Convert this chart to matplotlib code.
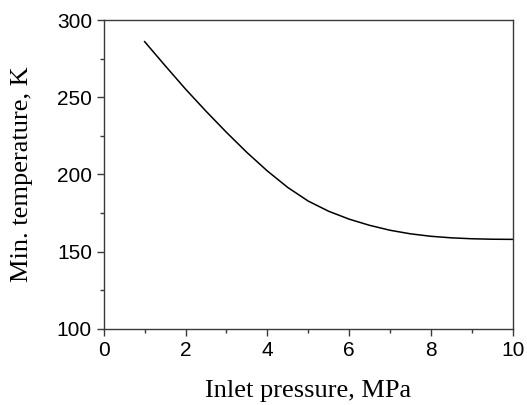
import matplotlib
matplotlib.use("Agg")
import matplotlib.pyplot as plt
from matplotlib.ticker import MultipleLocator

pressure = [1.0, 1.5, 2.0, 2.5, 3.0, 3.5, 4.0, 4.5, 5.0, 5.5, 6.0, 6.5, 7.0, 7.5, 8.0, 8.5, 9.0, 9.5, 10.0]
min_temp = [286.0, 270.5, 255.3, 241.0, 227.3, 214.3, 202.3, 191.6, 182.8, 176.2, 171.1, 167.1, 163.9, 161.6, 160.0, 159.0, 158.4, 158.1, 158.0]

x_ticks = [0, 2, 4, 6, 8, 10]
y_ticks = [100, 150, 200, 250, 300]

fig = plt.figure(figsize=(5.27, 4.05), dpi=100)
ax = fig.add_axes([0.1968, 0.1877, 0.9729 - 0.1968, 0.9506 - 0.1877])

ax.plot(pressure, min_temp, color="black", linewidth=1.1)

ax.set_xlim(0, 10)
ax.set_ylim(100, 300)
ax.set_xticks(x_ticks)
ax.set_yticks(y_ticks)
ax.xaxis.set_minor_locator(MultipleLocator(1))
ax.yaxis.set_minor_locator(MultipleLocator(25))

spine_color = "#3a3a3a"
for s in ax.spines.values():
    s.set_linewidth(1.0)
    s.set_color(spine_color)

ax.tick_params(which="both", direction="out", top=False, right=False, color=spine_color, width=1.0)
ax.tick_params(which="major", length=5, pad=3.5, labelsize=15)
ax.tick_params(which="minor", length=3)
for lbl in ax.get_xticklabels() + ax.get_yticklabels():
    lbl.set_fontfamily("Liberation Sans")

ax.set_xlabel("Inlet pressure, MPa", fontfamily="Liberation Serif", fontsize=19)
ax.set_ylabel("Min. temperature, K", fontfamily="Liberation Serif", fontsize=19)
ax.xaxis.set_label_coords(0.5, -0.165)
ax.yaxis.set_label_coords(-0.172, 0.5)

fig.savefig("out.png", dpi=100)
